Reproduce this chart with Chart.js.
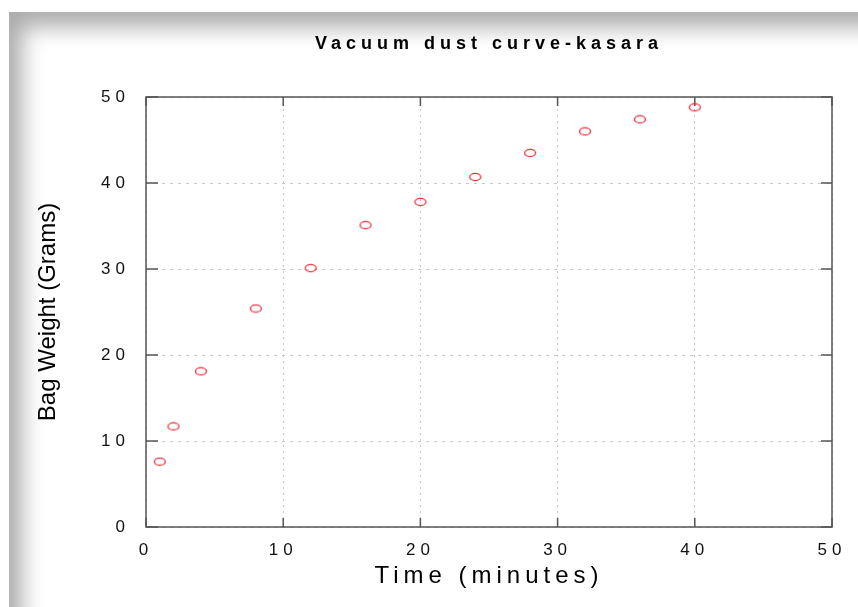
<!DOCTYPE html>
<html>
<head>
<meta charset="utf-8">
<script src="https://cdn.jsdelivr.net/npm/chart.js@4/dist/chart.umd.min.js"></script>
<style>
    html, body { margin: 0; padding: 0; background: #fff; overflow: hidden; }
    #wrap { position: relative; width: 858px; height: 607px; overflow: hidden; }
    #shade {
        position: absolute; left: 9px; top: 12px; right: -60px; bottom: -60px;
        box-shadow: inset 13px 15px 22px rgba(0, 0, 0, 0.33);
    }
    #dustChart { position: absolute; left: 0; top: 0; }
</style>
</head>
<body>
<div id="wrap">
    <div id="shade"></div>
    <canvas id="dustChart" width="858" height="607"></canvas>
</div>
<script>
// time (minutes) vs bag weight (grams)
const timeMinutes = [1, 2, 4, 8, 12, 16, 20, 24, 28, 32, 36, 40];
const bagWeight = [7.6, 11.7, 18.1, 25.4, 30.1, 35.1, 37.8, 40.7, 43.5, 46.0, 47.4, 48.8];
const xTickValues = [0, 10, 20, 30, 40, 50];
const yTickValues = [0, 10, 20, 30, 40, 50];

// small open red ellipse as marker
function ringMarker() {
    const c = document.createElement("canvas");
    c.width = 14;
    c.height = 10;
    const g = c.getContext("2d");
    g.strokeStyle = "#e8303a";
    g.lineWidth = 1.3;
    g.beginPath();
    g.ellipse(7, 5, 5.5, 3.6, 0, 0, Math.PI * 2);
    g.stroke();
    return c;
}

// frame round the plot + inward tick marks on all four sides
const frameTicks = {
    id: "frameTicks",
    beforeDraw(chart) {
        chart.ctx.letterSpacing = "5px";
    },
    beforeDatasetsDraw(chart) {
        const { ctx, chartArea: a, scales } = chart;
        ctx.save();
        ctx.strokeStyle = "#555";
        ctx.lineWidth = 1.5;
        ctx.setLineDash([]);
        ctx.strokeRect(a.left, a.top, a.right - a.left, a.bottom - a.top);
        ctx.beginPath();
        xTickValues.forEach(v => {
            const px = scales.x.getPixelForValue(v);
            ctx.moveTo(px, a.bottom); ctx.lineTo(px, a.bottom - 9);
            ctx.moveTo(px, a.top); ctx.lineTo(px, a.top + 9);
        });
        yTickValues.forEach(v => {
            const py = scales.y.getPixelForValue(v);
            ctx.moveTo(a.left, py); ctx.lineTo(a.left + 12, py);
            ctx.moveTo(a.right, py); ctx.lineTo(a.right - 11, py);
        });
        ctx.stroke();
        ctx.restore();
    },
    afterDraw(chart) {
        // y title, normal spacing
        const ctx = chart.ctx;
        const a = chart.chartArea;
        ctx.save();
        ctx.letterSpacing = "0px";
        ctx.translate(48, (a.top + a.bottom) / 2);
        ctx.rotate(-Math.PI / 2);
        ctx.font = "24px 'Liberation Sans', Arial, sans-serif";
        ctx.fillStyle = "#000";
        ctx.textAlign = "center";
        ctx.textBaseline = "middle";
        ctx.fillText("Bag Weight (Grams)", 0, 0);
        ctx.restore();
    }
};

const ctx = document.getElementById("dustChart").getContext("2d");

new Chart(ctx, {
    type: "scatter",
    data: {
        datasets: [{
            label: "Bag weight",
            data: timeMinutes.map((t, i) => ({ x: t, y: bagWeight[i] })),
            pointStyle: ringMarker(),
            pointRadius: 5,
            showLine: false
        }]
    },
    options: {
        responsive: false,
        animation: false,
        layout: {
            padding: { left: 0, right: 26, top: 0, bottom: 0 }
        },
        plugins: {
            legend: { display: false },
            tooltip: { enabled: false },
            title: {
                display: true,
                fullSize: false,
                text: "Vacuum dust curve-kasara",
                color: "#000",
                font: { family: "'Liberation Sans', Arial, sans-serif", size: 18, weight: "bold" },
                padding: { top: 33, bottom: 42.4 }
            }
        },
        scales: {
            x: {
                type: "linear",
                min: 0,
                max: 50,
                afterFit: s => { s.height = 80; },
                afterBuildTicks: s => { s.ticks = xTickValues.map(v => ({ value: v })); },
                ticks: {
                    color: "#111",
                    padding: 13,
                    maxRotation: 0,
                    font: { family: "'Liberation Sans', Arial, sans-serif", size: 17 }
                },
                grid: { color: "#c8c8c8", lineWidth: 1, drawTicks: false },
                border: { display: false, dash: [2, 4] },
                title: {
                    display: true,
                    text: "Time (minutes)",
                    color: "#000",
                    font: { family: "'Liberation Sans', Arial, sans-serif", size: 24 },
                    padding: { top: 0, bottom: 16 }
                }
            },
            y: {
                type: "linear",
                min: 0,
                max: 50,
                afterFit: s => { s.width = 146; },
                afterBuildTicks: s => { s.ticks = yTickValues.map(v => ({ value: v })); },
                ticks: {
                    color: "#111",
                    padding: 16,
                    font: { family: "'Liberation Sans', Arial, sans-serif", size: 17 }
                },
                grid: { color: "#c8c8c8", lineWidth: 1, drawTicks: false },
                border: { display: false, dash: [3, 5] },
                title: { display: false }
            }
        }
    },
    plugins: [frameTicks]
});
</script>
</body>
</html>
